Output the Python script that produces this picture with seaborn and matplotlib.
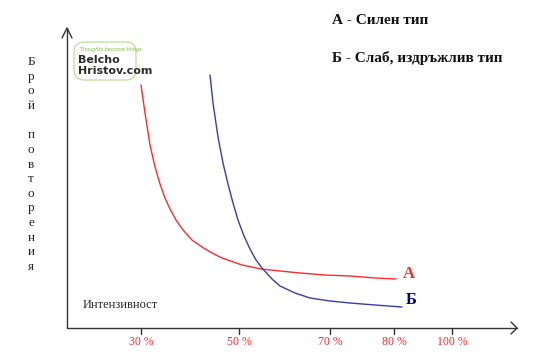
import pandas as pd
import matplotlib.pyplot as plt
import seaborn as sns
from matplotlib.patches import FancyBboxPatch

# Curve points (chart units: x to the right, y downward)
X_A = [141, 145, 150, 155, 160, 165, 170, 176, 183, 192, 202, 212, 222, 242, 261, 280, 300, 325, 350, 375, 396]
Y_A = [85, 113, 145, 167, 184, 198, 209, 220, 230, 240, 247, 253, 258, 265, 269, 271, 273, 275, 276, 278, 279]
X_B = [210, 213, 218, 223, 228, 233, 238, 244, 250, 256, 262, 272, 280, 295, 310, 330, 350, 375, 402]
Y_B = [75, 103, 137, 163, 184, 203, 220, 236, 249, 260, 268, 279, 286, 293, 298, 301, 303, 305, 307]

TICK_POS = [141, 239, 330, 394, 452]
TICK_LABELS = ["30 %", "50 %", "70 %", "80 %", "100 %"]

LEGEND = ["А - Силен тип", "Б - Слаб, издръжлив тип"]
Y_LABEL = "Брой повторения"
X_LABEL = "Интензивност"

RED = "#ff2a2a"
BLUE = "#3b3ba8"

sns.set_theme(style="white")
plt.rcParams["font.family"] = ["Liberation Serif", "DejaVu Serif"]

df = pd.concat([
    pd.DataFrame({"x": X_A, "y": Y_A, "curve": "А"}),
    pd.DataFrame({"x": X_B, "y": Y_B, "curve": "Б"}),
])

fig = plt.figure(figsize=(5.5, 3.63), dpi=100)
ax = fig.add_axes([0, 0, 1, 1])
ax.set_xlim(0, 550)
ax.set_ylim(363, 0)
ax.axis("off")

sns.lineplot(data=df, x="x", y="y", hue="curve", palette={"А": RED, "Б": BLUE},
             sort=False, estimator=None, linewidth=1.0, legend=False, ax=ax)

# axes with open arrow heads
ax.plot([67, 67], [328, 28], color="#333333", lw=1.0)
ax.plot([62, 67, 72], [38, 28, 38], color="#333333", lw=1.0)
ax.plot([67, 517], [328, 328], color="#333333", lw=1.0)
ax.plot([511, 517, 511], [322, 328, 334], color="#333333", lw=1.0)

for pos, lab in zip(TICK_POS, TICK_LABELS):
    ax.plot([pos, pos], [328, 334], color="#333333", lw=1.0)
    ax.text(pos, 342, lab, color=RED, fontsize=8.5, ha="center", va="center")

# curve labels
ax.text(403, 274, "А", color=RED, fontsize=12, fontweight="bold", va="center")
ax.text(406, 300, "Б", color="#000080", fontsize=12, fontweight="bold", va="center")

# legend text
ax.text(332, 20, LEGEND[0], fontsize=11, fontweight="bold", va="center", color="#111111")
ax.text(332, 58, LEGEND[1], fontsize=11, fontweight="bold", va="center", color="#111111")

# axis titles
ax.text(83, 305, X_LABEL, fontsize=9, va="center")
y = 62
for ch in Y_LABEL:
    if ch != " ":
        ax.text(31, y, ch, fontsize=9.5, ha="center", va="center")
    y += 14.6 if ch != " " else 15

# watermark logo
ax.add_patch(FancyBboxPatch((76, 44), 58, 34, boxstyle="round,pad=2,rounding_size=10",
                            fill=False, edgecolor="#b5dc8a", lw=0.8))
ax.text(80, 50, "Thoughts become things", color="#7cbf3a", fontsize=3.6,
        style="italic", family="DejaVu Sans", va="center")
ax.text(78, 60, "Belcho", color="#2b2b2b", fontsize=8, fontweight="bold",
        family="DejaVu Sans", va="center")
ax.text(78, 70.5, "Hristov.com", color="#2b2b2b", fontsize=8, fontweight="bold",
        family="DejaVu Sans", va="center")

fig.savefig("out.png", dpi=100, facecolor="white")
